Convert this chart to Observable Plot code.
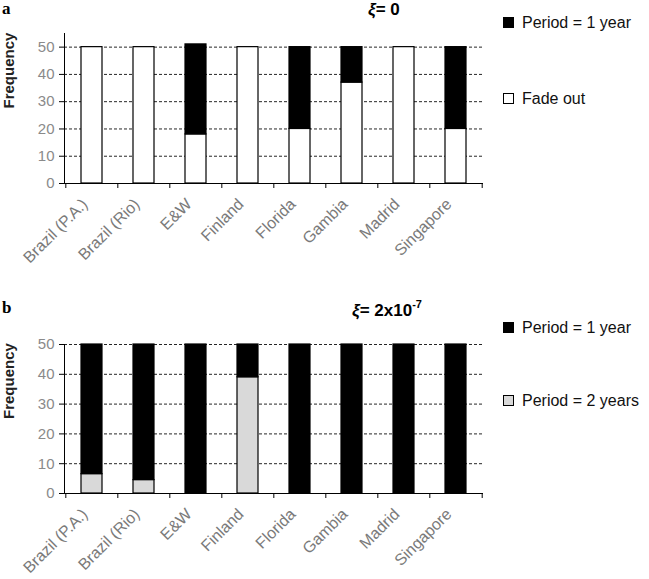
<!DOCTYPE html>
<html>
<head>
<meta charset="utf-8">
<script src="https://cdn.jsdelivr.net/npm/d3@7"></script>
<script src="https://cdn.jsdelivr.net/npm/@observablehq/plot@0.6"></script>
<style>
  html, body { margin: 0; padding: 0; background: #fff; }
  #wrap { position: relative; width: 649px; height: 579px; font-family: "Liberation Sans", Arial, sans-serif; }
  #wrap > .panel { position: absolute; left: 0; }
  #overlay { position: absolute; left: 0; top: 0; pointer-events: none; }
</style>
</head>
<body>
<div id="wrap"></div>
<script>
// ---- data ----
const sites = ["Brazil (P.A.)", "Brazil (Rio)", "E&W", "Finland", "Florida", "Gambia", "Madrid", "Singapore"];
// panel a (xi = 0)
const fadeOutA = [50, 50, 18, 50, 20, 37, 50, 20];
const period1A = [0, 0, 33, 0, 30, 13, 0, 30];
// panel b (xi = 2x10^-7)
const period2B = [6.5, 4.5, 0, 39, 0, 0, 0, 0];
const period1B = [43.5, 45.5, 50, 11, 50, 50, 50, 50];
const yTicks = [0, 10, 20, 30, 40, 50];
const gridTicks = [10, 20, 30, 40, 50];

const FONT = "Liberation Sans";
const W = 649, ML = 64, MR = 166;
const step = (W - ML - MR) / sites.length;

function rows(seriesList) {
  const out = [];
  seriesList.forEach(([name, vals]) => {
    sites.forEach((s, i) => { if (vals[i] > 0) out.push({site: s, series: name, value: vals[i]}); });
  });
  return out;
}

function panel({data, order, colors, yMax, height, marginTop, marginBottom}) {
  return Plot.plot({
    width: W, height, marginLeft: ML, marginRight: MR, marginTop, marginBottom,
    style: {fontFamily: FONT, fontSize: "13px", background: "transparent", overflow: "visible"},
    x: {domain: sites, paddingInner: 0.6, paddingOuter: 0.3, label: null, axis: null},
    y: {domain: [0, yMax], label: null, axis: null},
    color: {domain: order, range: colors},
    marks: [
      Plot.gridY(gridTicks, {stroke: "#000", strokeOpacity: 0.85, strokeDasharray: "3,2"}),
      Plot.barY(data, Plot.stackY({x: "site", y: "value", fill: "series", order, stroke: "#000", strokeWidth: 1.2})),
      Plot.frame({anchor: "left", stroke: "#000"}),
      Plot.ruleY([0], {stroke: "#000"}),
      Plot.axisY({ticks: yTicks, tickSize: 5, tickPadding: 5, stroke: "#000", fill: "#8a8a8a", fontSize: 15, label: null}),
      // boundary tick marks on x axis
      Plot.axisX({ticks: sites, tickSize: 5, dx: -step / 2, fill: "none", stroke: "#000", label: null}),
      Plot.axisX({ticks: sites.slice(-1), tickSize: 5, dx: step / 2, fill: "none", stroke: "#000", label: null}),
      // rotated category labels
      Plot.axisX({tickSize: 0, tickRotate: -45, tickPadding: 18, dx: -7, fill: "#7a7a7a", stroke: "none", fontSize: 16, label: null}),
      Plot.text(["Frequency"], {frameAnchor: "left", rotate: -90, dx: -55, fontWeight: "bold", fontSize: 15, fill: "#222"})
    ]
  });
}

const wrap = document.getElementById("wrap");

const chartA = panel({
  data: rows([["Fade out", fadeOutA], ["Period = 1 year", period1A]]),
  order: ["Fade out", "Period = 1 year"],
  colors: ["#ffffff", "#000000"],
  yMax: 55, height: 290, marginTop: 33, marginBottom: 107
});
chartA.classList.add("panel");
chartA.style.top = "0px";
wrap.appendChild(chartA);

const chartB = panel({
  data: rows([["Period = 2 years", period2B], ["Period = 1 year", period1B]]),
  order: ["Period = 2 years", "Period = 1 year"],
  colors: ["#d9d9d9", "#000000"],
  yMax: 50, height: 289, marginTop: 54, marginBottom: 86
});
chartB.classList.add("panel");
chartB.style.top = "290px";
wrap.appendChild(chartB);

// ---- overlay: panel letters, titles, legends ----
const NS = "http://www.w3.org/2000/svg";
const ov = document.createElementNS(NS, "svg");
ov.setAttribute("id", "overlay");
ov.setAttribute("width", W);
ov.setAttribute("height", 579);
wrap.appendChild(ov);

function txt(x, y, parts, attrs = {}) {
  const t = document.createElementNS(NS, "text");
  t.setAttribute("x", x); t.setAttribute("y", y);
  t.setAttribute("font-family", FONT);
  for (const k in attrs) t.setAttribute(k, attrs[k]);
  for (const p of parts) {
    const s = document.createElementNS(NS, "tspan");
    s.textContent = p.t;
    for (const k in (p.a || {})) s.setAttribute(k, p.a[k]);
    t.appendChild(s);
  }
  ov.appendChild(t);
}
function sq(x, y, fill) {
  const r = document.createElementNS(NS, "rect");
  r.setAttribute("x", x); r.setAttribute("y", y);
  r.setAttribute("width", 10); r.setAttribute("height", 10);
  r.setAttribute("fill", fill); r.setAttribute("stroke", "#000"); r.setAttribute("stroke-width", 1);
  ov.appendChild(r);
}

const panelLetters = ["a", "b"];
txt(2, 14, [{t: panelLetters[0]}], {"font-family": "Liberation Serif", "font-weight": "bold", "font-size": 17});
txt(2, 313, [{t: panelLetters[1]}], {"font-family": "Liberation Serif", "font-weight": "bold", "font-size": 17});

txt(368, 15, [{t: "ξ", a: {"font-style": "italic"}}, {t: "= 0"}], {"font-weight": "bold", "font-size": 17});
txt(352, 316, [{t: "ξ", a: {"font-style": "italic"}}, {t: "= 2x10"}, {t: "-7", a: {"font-size": 11, dy: -8}}], {"font-weight": "bold", "font-size": 17});

const legendA = ["Period = 1 year", "Fade out"];
const legendB = ["Period = 1 year", "Period = 2 years"];
sq(503.5, 17.5, "#000"); txt(522, 28, [{t: legendA[0]}], {"font-size": 16, fill: "#111"});
sq(503.5, 93.5, "#fff"); txt(522, 104, [{t: legendA[1]}], {"font-size": 16, fill: "#111"});
sq(503.5, 322.5, "#000"); txt(522, 333, [{t: legendB[0]}], {"font-size": 16, fill: "#111"});
sq(503.5, 395.5, "#d9d9d9"); txt(522, 406, [{t: legendB[1]}], {"font-size": 16, fill: "#111"});
</script>
</body>
</html>
